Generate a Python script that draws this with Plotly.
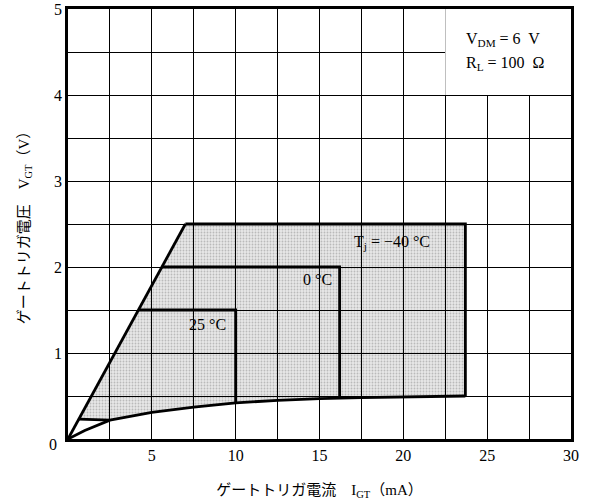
import plotly.graph_objects as go

# ---- data ----
# lower boundary curve (minimum gate trigger voltage)
curve_i = [0, 1.0, 2.5, 5.0, 7.5, 10.0, 12.5, 15.0, 17.5, 20.0, 23.7]
curve_v = [0, 0.10, 0.22, 0.31, 0.37, 0.42, 0.45, 0.47, 0.48, 0.49, 0.50]

# left boundary line (gate load line)
load_i = [0, 7.0]
load_v = [0, 2.5]

# lower-left horizontal step
step_i = [0.65, 2.5]
step_v = [0.23, 0.22]

# temperature boxes
temps = ["T<sub>j</sub> = −40 °C", "0 °C", "25 °C"]
box_left_i = [7.0, 5.6, 4.2]
box_top_v = [2.5, 2.0, 1.5]
box_right_i = [23.7, 16.2, 10.0]
box_bottom_v = [0.50, 0.48, 0.42]
label_i = [19.3, 14.9, 8.3]
label_v = [2.29, 1.85, 1.33]

x_ticks = [5, 10, 15, 20, 25, 30]
x_tick_labels = ["5", "10", "15", "20", "25", "30"]
x_minor = [2.5, 7.5, 12.5, 17.5, 22.5, 27.5]
y_ticks = [1, 2, 3, 4, 5]
y_tick_labels = ["1", "2", "3", "4", "5"]
y_minor = [0.5, 1.5, 2.5, 3.5, 4.5]

SERIF = "Liberation Serif, Noto Sans CJK JP"
CJK = "Liberation Serif, Noto Sans CJK JP"

fig = go.Figure()

# shaded region polygon
poly_i = [step_i[0], load_i[1], box_right_i[0], box_right_i[0]]
poly_v = [step_v[0], load_v[1], box_top_v[0], box_bottom_v[0]]
for ci, cv in zip(reversed(curve_i), reversed(curve_v)):
    if step_i[1] <= ci < box_right_i[0]:
        poly_i.append(ci)
        poly_v.append(cv)
poly_i.append(step_i[0])
poly_v.append(step_v[0])
fig.add_trace(go.Scatter(x=poly_i, y=poly_v, mode="lines", fill="toself",
                         fillcolor="rgba(0,0,0,0.09)",
                         fillpattern=dict(shape=".", fgcolor="rgba(0,0,0,0.40)",
                                          bgcolor="rgba(0,0,0,0.09)",
                                          size=3, solidity=0.3),
                         line=dict(width=0),
                         hoverinfo="skip", showlegend=False))

LW = 2.8
fig.add_trace(go.Scatter(x=curve_i, y=curve_v, mode="lines",
                         line=dict(color="black", width=LW), showlegend=False))
fig.add_trace(go.Scatter(x=load_i, y=load_v, mode="lines",
                         line=dict(color="black", width=LW), showlegend=False))
fig.add_trace(go.Scatter(x=step_i, y=step_v, mode="lines",
                         line=dict(color="black", width=LW), showlegend=False))
for li, tv, ri, bv in zip(box_left_i, box_top_v, box_right_i, box_bottom_v):
    fig.add_trace(go.Scatter(x=[li, ri, ri], y=[tv, tv, bv], mode="lines",
                             line=dict(color="black", width=LW), showlegend=False))

for t, xi, yv in zip(temps, label_i, label_v):
    fig.add_annotation(x=xi, y=yv, text=t, showarrow=False,
                       font=dict(family=SERIF, size=16, color="black"))

# white box for condition text (no grid there)
fig.add_shape(type="rect", x0=22.5, x1=30, y0=4, y1=5, xref="x", yref="y",
              fillcolor="white", line=dict(width=0), layer="between")
fig.add_annotation(x=23.6, y=4.64, xanchor="left", showarrow=False,
                   text="V<sub>DM</sub> = 6  V",
                   font=dict(family=SERIF, size=16, color="black"))
fig.add_annotation(x=23.6, y=4.37, xanchor="left", showarrow=False,
                   text="R<sub>L</sub> = 100  Ω",
                   font=dict(family=SERIF, size=16, color="black"))

# corner zero label
fig.add_annotation(x=-0.042, y=-0.037, xref="paper", yref="paper", showarrow=False,
                   text="0", font=dict(family=SERIF, size=16, color="black"))

axis_common = dict(showline=True, linecolor="black", linewidth=2.5, mirror=True,
                   showgrid=True, gridcolor="black", gridwidth=1, zeroline=False,
                   ticks="", tickmode="array", automargin=False,
                   tickfont=dict(family=SERIF, size=16, color="black"))
fig.update_xaxes(range=[0, 30], tickvals=x_ticks, ticktext=x_tick_labels,
                 minor=dict(tickmode="array", tickvals=x_minor, showgrid=True,
                            gridcolor="black", gridwidth=1, ticks=""),
                 title=dict(text="ゲートトリガ電流　I<sub>GT</sub>（mA）",
                            font=dict(family=CJK, size=15, color="black"), standoff=22),
                 **axis_common)
fig.update_yaxes(range=[0, 5], tickvals=y_ticks, ticktext=y_tick_labels,
                 minor=dict(tickmode="array", tickvals=y_minor, showgrid=True,
                            gridcolor="black", gridwidth=1, ticks=""),
                 title=dict(text="ゲートトリガ電圧　V<sub>GT</sub>（V）",
                            font=dict(family=CJK, size=15, color="black"), standoff=21),
                 **axis_common)

fig.update_layout(width=592, height=504, autosize=False,
                  margin=dict(l=68, r=21, t=9, b=65),
                  plot_bgcolor="white", paper_bgcolor="white",
                  showlegend=False, hovermode=False)

# remove the default page margin so the figure fills the window exactly
fig.write_html("out.html", config={"displayModeBar": False},
               post_script="document.body.style.margin='0';document.body.style.overflow='hidden';")
